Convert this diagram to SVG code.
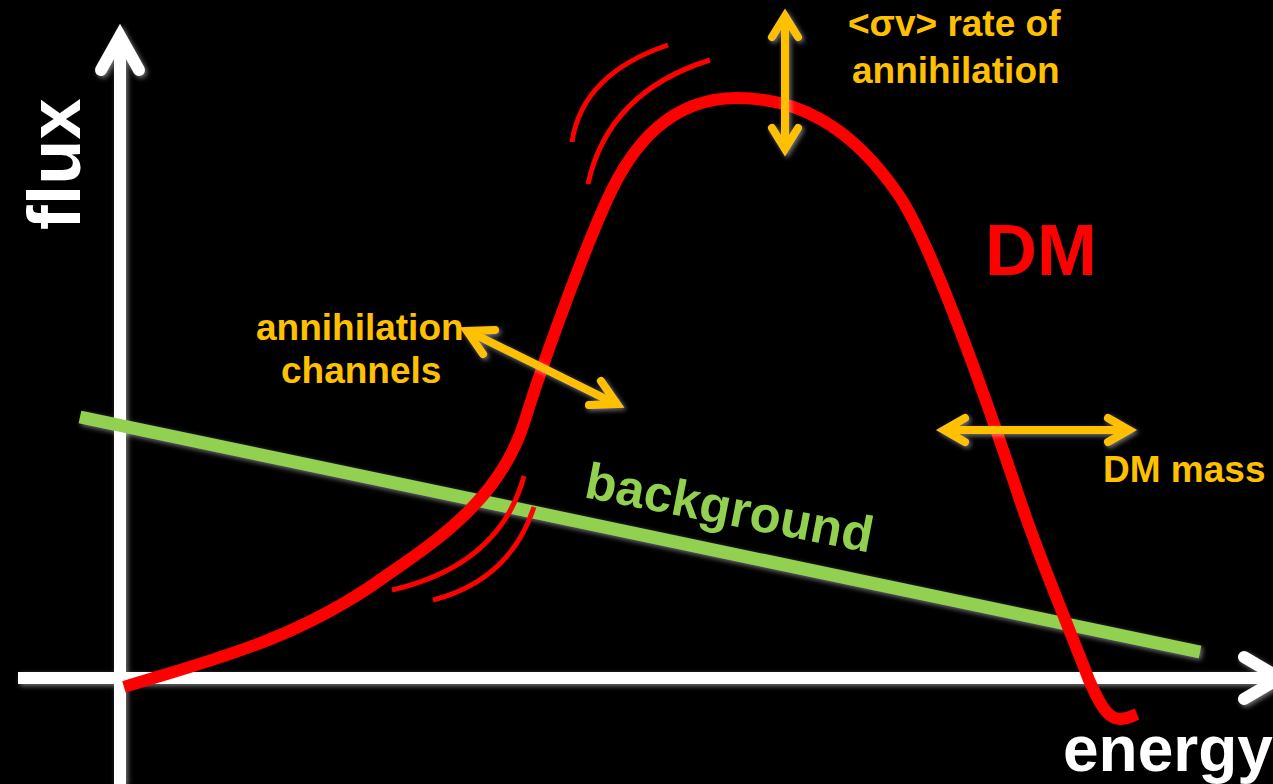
<svg xmlns="http://www.w3.org/2000/svg" width="1273" height="784" viewBox="0 0 1273 784">
<style>
.axis{fill:none;stroke:#FFFFFF;stroke-width:12;stroke-linejoin:miter}
.axhead{fill:none;stroke:#FFFFFF;stroke-width:12;stroke-linecap:round;stroke-linejoin:miter;stroke-miterlimit:10}
.dm{fill:none;stroke:#FF0000;stroke-width:12;stroke-linejoin:round}
.thin{fill:none;stroke:#FF0000;stroke-width:5}
.bg{fill:none;stroke:#92D050;stroke-width:13}
.oa{fill:none;stroke:#FFC000;stroke-width:8;stroke-linecap:round;stroke-linejoin:miter;stroke-miterlimit:10}
.lbl{font-family:"Liberation Sans",Arial,sans-serif;font-weight:bold}
.or{fill:#FFC000;font-size:37px}
</style>
<defs>
<filter id="glow" x="-20%" y="-20%" width="140%" height="140%">
<feGaussianBlur in="SourceAlpha" stdDeviation="2.5" result="b"/>
<feOffset in="b" dx="2" dy="2" result="o"/>
<feFlood flood-color="#FFFFFF" flood-opacity="0.45"/>
<feComposite in2="o" operator="in" result="s"/>
<feMerge><feMergeNode in="s"/><feMergeNode in="SourceGraphic"/></feMerge>
</filter>
</defs>
<rect x="0" y="0" width="1273" height="784" fill="#000000"/>

<g id="axes" filter="url(#glow)">
<line class="axis" x1="120" y1="40" x2="120" y2="784"/>
<polyline class="axhead" points="101,70 120,36 139,70"/>
<line class="axis" x1="18" y1="678" x2="1276" y2="678"/>
<polyline class="axhead" points="1244,657 1280,678 1244,699"/>
</g>

<g id="background-line" filter="url(#glow)">
<line class="bg" x1="80" y1="417" x2="1200" y2="652"/>
</g>

<g id="dm-curve">
<path class="dm" d="M124,687 C209,661 295,640 380,580 C430,545 500,502 525,420 C542,365 582,255 607,200 C632,145 670,98 737,98 C795,98 850,123 900,197 C935,250 995,425 1020,500 C1040,560 1070,630 1089,680 C1100,705 1108,719 1120,719 C1128,719 1132,716 1137,714"/>
<path class="thin" d="M572,142 Q582,74 668,45"/>
<path class="thin" d="M588,184 Q608,92 710,60"/>
<path class="thin" d="M392,590 Q500,565 524,476"/>
<path class="thin" d="M433,600 Q510,580 534,507"/>
</g>

<g id="connectors" filter="url(#glow)">
<line class="oa" x1="785" y1="20" x2="785" y2="145"/>
<polyline class="oa" points="772,37 785,16 798,37"/>
<polyline class="oa" points="772,128 785,149 798,128"/>
<line class="oa" x1="946" y1="430" x2="1127" y2="430"/>
<polyline class="oa" points="965,418 944,430 965,442"/>
<polyline class="oa" points="1108,418 1129,430 1108,442"/>
<line class="oa" x1="470" y1="332" x2="614" y2="403"/>
<polyline class="oa" points="495,330 467,331 483,354"/>
<polyline class="oa" points="589,405 617,404 601,381"/>
</g>

<g id="label-flux">
<text class="lbl" x="80" y="230" font-size="74" fill="#FFFFFF" transform="rotate(-90 80 230)">flux</text>
</g>
<g id="label-energy">
<text class="lbl" x="1063" y="771" font-size="64" fill="#FFFFFF">energy</text>
</g>
<g id="label-dm">
<text class="lbl" x="985" y="275" font-size="72" fill="#FF0000">DM</text>
</g>
<g id="label-rate">
<text class="lbl or" x="848" y="36">&lt;σv&gt; rate of</text>
<text class="lbl or" x="852" y="83">annihilation</text>
</g>
<g id="label-channels">
<text class="lbl or" x="256" y="340">annihilation</text>
<text class="lbl or" x="281" y="383">channels</text>
</g>
<g id="label-mass">
<text class="lbl or" x="1103" y="482">DM mass</text>
</g>
<g id="label-background">
<text class="lbl" x="583" y="497" font-size="51" fill="#92D050" transform="rotate(11 583 497)">background</text>
</g>
</svg>
